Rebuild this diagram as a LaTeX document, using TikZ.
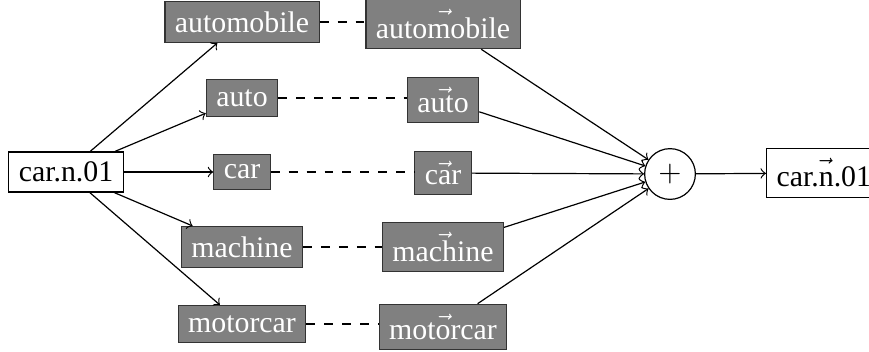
\documentclass[tikz,border=0pt]{standalone}
\usepackage{amsmath}
\usepackage{fontspec}
\setmainfont{Liberation Serif}
\usetikzlibrary{arrows}
\tikzset{
	word/.style={draw=black!80, fill=gray, text=white},
	plain/.style={draw=black, fill=white}
}

\begin{document}
\begin{tikzpicture}[x=0.335pt, y=-0.335pt]
			\useasboundingbox (0, 0) rectangle (869, 351);

			\node[plain] (src) at (66, 172) {car.n.01};
			\node[draw, circle, minimum size=17pt, inner sep=0pt] (plus) at (670, 174) {$+$};
			\node[plain, anchor=west] (out) at (766, 173) {$\vec{\text{car.n.01}}$};

			\foreach \w/\y/\yy in {automobile/22/24, auto/98/100, car/172/173, machine/247/247, motorcar/324/327} {
				\node[word] (l\w) at (242, \y) {\w};
				\node[word] (r\w) at (443, \yy) {$\vec{\text{\w}}$};
				\draw[->]	(src) to (l\w);
				\draw[dashed]	(l\w.east) to (l\w.east -| r\w.west);
				\draw[->]	(r\w) to (plus);
			}

			\draw[->]	(plus) to (out);
		\end{tikzpicture}
\end{document}
